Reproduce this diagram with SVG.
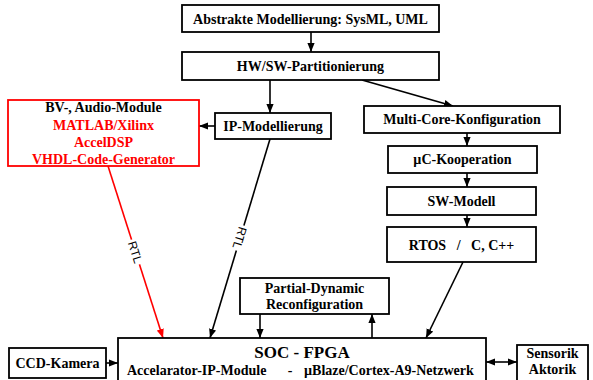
<svg xmlns="http://www.w3.org/2000/svg" width="593" height="380" viewBox="0 0 593 380">
<style>
.box{fill:#fff;stroke:#000;stroke-width:1.8}
.rbox{fill:#fff;stroke:#f00;stroke-width:1.8}
.t{font-family:"Liberation Serif","Times New Roman",serif;font-weight:bold;font-size:14px;fill:#000;text-anchor:middle}
.r{fill:#f00}
.big{font-size:17px}
.lbl{font-family:"Liberation Sans",Arial,sans-serif;font-size:12px;fill:#000;text-anchor:middle}
.c{fill:none;stroke:#000;stroke-width:1.6}
.cr{fill:none;stroke:#f00;stroke-width:1.6}
</style>
<defs>
<marker id="ah" viewBox="0 0 10 8" refX="10" refY="4" markerWidth="9" markerHeight="8" markerUnits="userSpaceOnUse" orient="auto-start-reverse"><path d="M0,0 L10,4 L0,8 z" fill="#000"/></marker>
<marker id="ahr" viewBox="0 0 10 8" refX="10" refY="4" markerWidth="9" markerHeight="8" markerUnits="userSpaceOnUse" orient="auto"><path d="M0,0 L10,4 L0,8 z" fill="#f00"/></marker>
</defs>
<rect width="593" height="380" fill="#fff"/>

<g id="connectors">
<line class="c" x1="311" y1="32" x2="311" y2="52" marker-end="url(#ah)"/>
<line class="c" x1="270" y1="80" x2="270" y2="113" marker-end="url(#ah)"/>
<line class="c" x1="215" y1="126" x2="199" y2="126" marker-end="url(#ah)"/>
<line class="c" x1="362" y1="80" x2="453" y2="106" marker-end="url(#ah)"/>
<line class="c" x1="467" y1="133" x2="467" y2="146" marker-end="url(#ah)"/>
<line class="c" x1="467" y1="173" x2="467" y2="187" marker-end="url(#ah)"/>
<line class="c" x1="467" y1="215" x2="467" y2="227" marker-end="url(#ah)"/>
<line class="c" x1="463" y1="262" x2="426" y2="338" marker-end="url(#ah)"/>
<line class="cr" x1="108" y1="166" x2="163" y2="338" marker-end="url(#ahr)"/>
<line class="c" x1="270" y1="139" x2="210" y2="338" marker-end="url(#ah)"/>
<line class="c" x1="260" y1="314" x2="260" y2="338" marker-end="url(#ah)"/>
<line class="c" x1="372" y1="338" x2="372" y2="314" marker-end="url(#ah)"/>
<line class="c" x1="106" y1="363" x2="118" y2="363" marker-end="url(#ah)"/>
<line class="c" x1="486" y1="362" x2="517" y2="362" marker-start="url(#ah)" marker-end="url(#ah)"/>
<g transform="translate(135.5,252) rotate(72.3)">
<rect x="-13" y="-6" width="26" height="12" fill="#fff"/>
<text class="lbl" x="0" y="4.5">RTL</text>
</g>
<g transform="translate(240,238) rotate(106.8)">
<rect x="-13" y="-6" width="26" height="12" fill="#fff"/>
<text class="lbl" x="0" y="4.5">RTL</text>
</g>
</g>

<g id="abstrakte">
<rect class="box" x="182" y="5" width="257" height="27"/>
<text class="t" x="310.5" y="24">Abstrakte Modellierung: SysML, UML</text>
</g>
<g id="hwsw">
<rect class="box" x="182" y="52" width="257" height="28"/>
<text class="t" x="310.5" y="71">HW/SW-Partitionierung</text>
</g>
<g id="bv-audio">
<rect class="rbox" x="8" y="100" width="191" height="66"/>
<text class="t" x="103.5" y="112">BV-, Audio-Module</text>
<text class="t r" x="103.5" y="129.5">MATLAB/Xilinx</text>
<text class="t r" x="103.5" y="146.5">AccelDSP</text>
<text class="t r" x="103.5" y="163.5">VHDL-Code-Generator</text>
</g>
<g id="ip-modellierung">
<rect class="box" x="215" y="113" width="116" height="26"/>
<text class="t" x="273" y="130.5">IP-Modellierung</text>
</g>
<g id="multicore">
<rect class="box" x="364" y="106" width="196" height="27"/>
<text class="t" x="462" y="124">Multi-Core-Konfiguration</text>
</g>
<g id="uc-kooperation">
<rect class="box" x="388" y="146" width="149" height="27"/>
<text class="t" x="462.5" y="164">µC-Kooperation</text>
</g>
<g id="sw-modell">
<rect class="box" x="387" y="187" width="149" height="28"/>
<text class="t" x="461.5" y="206">SW-Modell</text>
</g>
<g id="rtos">
<rect class="box" x="387" y="227" width="149" height="35"/>
<text class="t" x="461.5" y="250" xml:space="preserve">RTOS   /   C, C++</text>
</g>
<g id="partial">
<rect class="box" x="240" y="278" width="149" height="36"/>
<text class="t" x="314.5" y="293">Partial-Dynamic</text>
<text class="t" x="314.5" y="309">Reconfiguration</text>
</g>
<g id="soc">
<rect class="box" x="118" y="338" width="368" height="50"/>
<text class="t big" x="302" y="358">SOC - FPGA</text>
<text class="t" x="127" y="375" style="text-anchor:start">Accelarator-IP-Module</text>
<text class="t" x="290" y="375">-</text>
<text class="t" x="304" y="375" style="text-anchor:start">µBlaze/Cortex-A9-Netzwerk</text>
</g>
<g id="ccd">
<rect class="box" x="9" y="348" width="97" height="30"/>
<text class="t" x="57.5" y="368">CCD-Kamera</text>
</g>
<g id="sensorik">
<rect class="box" x="517" y="345" width="71" height="42"/>
<text class="t" x="552.5" y="358">Sensorik</text>
<text class="t" x="552.5" y="374">Aktorik</text>
</g>
</svg>
